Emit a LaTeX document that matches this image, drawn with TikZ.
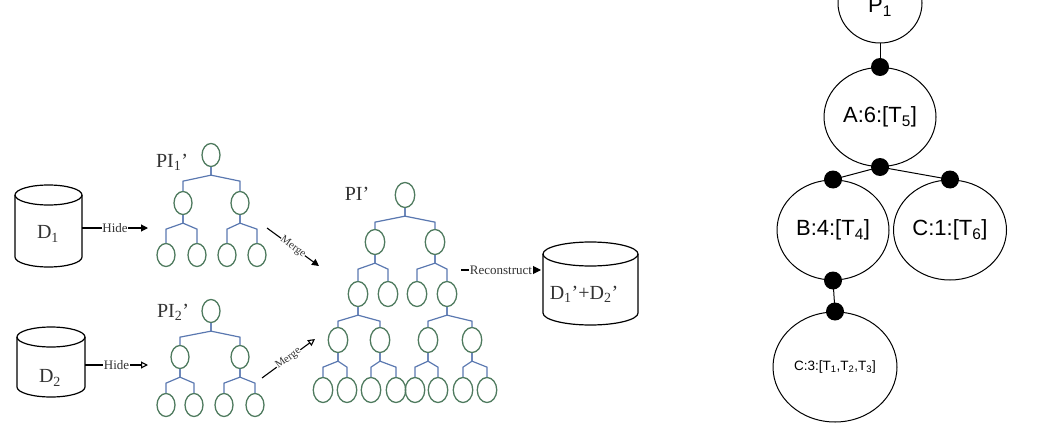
\documentclass[tikz,border=0pt]{standalone}
\usepackage{fontspec}
\setmainfont{Liberation Serif}
\newfontfamily\arialf{Liberation Sans}
\usetikzlibrary{shapes.geometric,arrows.meta,calc}
\definecolor{treegreen}{HTML}{4E7A5E}
\definecolor{treeblue}{HTML}{5A78B0}
\definecolor{labgray}{HTML}{333333}
\tikzset{
 leaf/.style={ellipse,draw=treegreen,line width=1.3pt,minimum width=18pt,minimum height=23pt,inner sep=0pt},
 bigleaf/.style={leaf,minimum width=19.5pt,minimum height=25pt},
 treeline/.style={draw=treeblue,line width=1.2pt},
 cyl/.style={draw=black,line width=1.2pt},
 lbl/.style={text=labgray,font=\fontsize{20}{22}\selectfont,inner sep=0pt},
 flow/.style={line width=1.1pt,draw=black},
 flowtxt/.style={fill=white,inner sep=0.5pt,text=labgray,font=\fontsize{13}{14}\selectfont},
 mergetxt/.style={fill=white,inner sep=0.3pt,text=labgray,font=\fontsize{11}{12}\selectfont,sloped},
 circ/.style={ellipse,draw,line width=1pt,inner sep=0pt,font=\arialf\fontsize{22}{24}\selectfont},
 dot/.style={circle,fill=black,minimum size=18pt,inner sep=0pt},
 conn/.style={line width=1pt,draw=black},
}
\newcommand{\br}[2]{\draw[treeline] (#1.south) -- ++(0,8) coordinate (tj) -- ($(#2.north |- tj)+(0,6)$) -- (#2.north);}
\begin{document}
\begin{tikzpicture}[x=1pt,y=-1pt]
\useasboundingbox (0,0) rectangle (1038,428);
% ---------- cylinders ----------
\draw[cyl] (15,195) -- (15,257) arc[start angle=180,end angle=0,x radius=33.5,y radius=10] -- (82,195);
\draw[cyl] (48.5,195) ellipse[x radius=33.5,y radius=10];
\node[lbl] (d1) at (48,234) {D\textsubscript{1}};
\coordinate (d1e) at (82,228);
\draw[cyl] (17,337) -- (17,387) arc[start angle=180,end angle=0,x radius=34,y radius=10] -- (85,337);
\draw[cyl] (51,337) ellipse[x radius=34,y radius=10];
\node[lbl] (d2) at (50,378) {D\textsubscript{2}};
\coordinate (d2e) at (85,365);
\draw[cyl] (543,254) -- (543,313) arc[start angle=180,end angle=0,x radius=47.5,y radius=12] -- (638,254);
\draw[cyl] (590.5,254) ellipse[x radius=47.5,y radius=12];
\node[lbl] (d12) at (584,294) {D\textsubscript{1}'+D\textsubscript{2}'};
\coordinate (d12w) at (541,270);
% ---------- PI1' ----------
\node[lbl] (pi1l) at (172,162) {PI\textsubscript{1}'};
\node[leaf] (p1r) at (211,155) {};
\node[leaf] (p1a) at (183,203) {};
\node[leaf] (p1b) at (240,203) {};
\node[leaf] (p1c) at (166,255) {};
\node[leaf] (p1d) at (197,255) {};
\node[leaf] (p1e) at (227,255) {};
\node[leaf] (p1f) at (257,255) {};
\br{p1r}{p1a}\br{p1r}{p1b}
\br{p1a}{p1c}\br{p1a}{p1d}\br{p1b}{p1e}\br{p1b}{p1f}
% ---------- PI2' ----------
\node[lbl] (pi2l) at (173,312) {PI\textsubscript{2}'};
\node[leaf] (p2r) at (211,311) {};
\node[leaf] (p2a) at (180,357) {};
\node[leaf] (p2b) at (240,357) {};
\node[leaf] (p2c) at (166,405) {};
\node[leaf] (p2d) at (194,405) {};
\node[leaf] (p2e) at (224,405) {};
\node[leaf] (p2f) at (255,405) {};
\br{p2r}{p2a}\br{p2r}{p2b}
\br{p2a}{p2c}\br{p2a}{p2d}\br{p2b}{p2e}\br{p2b}{p2f}
% ---------- PI' ----------
\node[lbl] (pil) at (357,194) {PI'};
\node[bigleaf] (r) at (405,195) {};
\node[bigleaf] (a1) at (375,242) {};
\node[bigleaf] (a2) at (435,242) {};
\node[bigleaf] (b1) at (358,294) {};
\node[bigleaf] (b2) at (388,294) {};
\node[bigleaf] (b3) at (417,294) {};
\node[bigleaf] (b4) at (447,294) {};
\node[bigleaf] (c1) at (338,340) {};
\node[bigleaf] (c2) at (380,340) {};
\node[bigleaf] (c3) at (428,340) {};
\node[bigleaf] (c4) at (472,340) {};
\node[bigleaf] (e1) at (323,390) {};
\node[bigleaf] (e2) at (347,390) {};
\node[bigleaf] (e3) at (371,390) {};
\node[bigleaf] (e4) at (396,390) {};
\node[bigleaf] (e5) at (415,390) {};
\node[bigleaf] (e6) at (438,390) {};
\node[bigleaf] (e7) at (463,390) {};
\node[bigleaf] (e8) at (487,390) {};
\br{r}{a1}\br{r}{a2}
\br{a1}{b1}\br{a1}{b2}\br{a2}{b3}\br{a2}{b4}
\br{b1}{c1}\br{b1}{c2}\br{b4}{c3}\br{b4}{c4}
\br{c1}{e1}\br{c1}{e2}\br{c2}{e3}\br{c2}{e4}
\br{c3}{e5}\br{c3}{e6}\br{c4}{e7}\br{c4}{e8}
% ---------- flow arrows ----------
\coordinate (h1t) at (148,228);
\coordinate (h2t) at (148,365);
\draw[flow,-{Triangle[length=7pt,width=7pt]}] (d1e) -- node[flowtxt] {Hide} (h1t);
\draw[flow,-{Triangle[open,length=7pt,width=7pt]}] (d2e) -- node[flowtxt] {Hide} (h2t);
\coordinate (m1s) at (267,228);
\coordinate (m1t) at (319,266);
\coordinate (m2s) at (262,378);
\coordinate (m2t) at (315,339);
\draw[flow,-{Triangle[length=7pt,width=7pt]}] (m1s) -- node[mergetxt] {Merge} (m1t);
\draw[flow,-{Triangle[open,length=7pt,width=7pt]}] (m2s) -- node[mergetxt] {Merge} (m2t);
\coordinate (rcs) at (461,270);
\draw[flow,-{Triangle[length=9pt,width=9pt]}] (rcs) -- node[flowtxt] {Reconstruct} (d12w);
% ---------- right tree ----------
\node[circ,minimum width=84pt,minimum height=80pt] (P) at (880,3) {};
\node[font=\arialf\fontsize{22}{24}\selectfont,inner sep=0pt] (Pt) at (880,7) {P\textsubscript{1}};
\node[circ,minimum width=112pt,minimum height=99pt] (A) at (880,117) {A:6:[T\textsubscript{5}]};
\node[circ,minimum width=112pt,minimum height=100pt] (B) at (833,230) {B:4:[T\textsubscript{4}]};
\node[circ,minimum width=113pt,minimum height=100pt] (C1) at (950,230) {C:1:[T\textsubscript{6}]};
\node[circ,minimum width=124pt,minimum height=110pt,font=\arialf\fontsize{13.5}{15}\selectfont] (C3) at (835,367) {C:3:[T\textsubscript{1},T\textsubscript{2},T\textsubscript{3}]};
\draw[conn] (P.south) -- (A.north);
\draw[conn] (A.south) -- (B.north);
\draw[conn] (A.south) -- (C1.north);
\draw[conn] (B.south) -- (C3.north);
\node[dot] (dAn) at (A.north) {};
\node[dot] (dAs) at (A.south) {};
\node[dot] (dBn) at (B.north) {};
\node[dot] (dBs) at (B.south) {};
\node[dot] (dCn) at (C1.north) {};
\node[dot] (dC3n) at (C3.north) {};
\end{tikzpicture}
\end{document}
